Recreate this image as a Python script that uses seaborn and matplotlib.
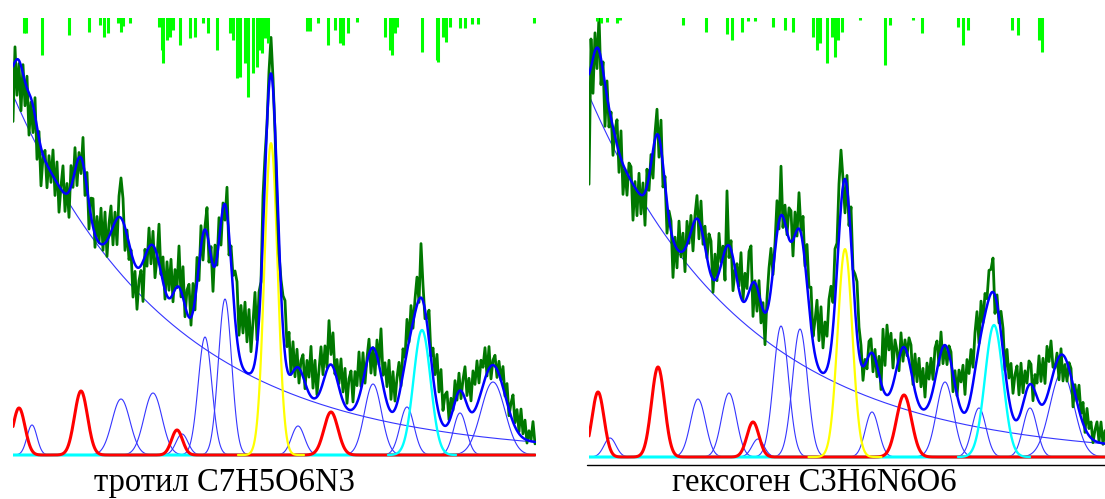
import numpy as np
import seaborn as sns
import matplotlib.pyplot as plt
from matplotlib.lines import Line2D

# ---------------- тротил (left panel) ----------------
tnt_range = (13, 535)
tnt_base = (13, 360, 157)          # x0, amplitude, decay length
tnt_blue_c = [32, 121, 153, 182, 205, 225, 298, 373, 407, 460, 493]
tnt_blue_h = [30, 56, 62, 21, 118, 156, 29, 71, 48, 42, 73]
tnt_blue_s = [5, 9, 9, 6, 6.8, 6.6, 6.5, 8.5, 7, 6.5, 12]
tnt_red_c = [19, 81, 177, 331]
tnt_red_h = [47, 64, 25, 43]
tnt_red_s = [6, 6.5, 5.5, 7]
tnt_yellow = (271, 312, 6.6)
tnt_cyan = (422, 125, 8.5)
# measured minus fit, one value every 2 channels starting at x=13
tnt_resid = [-55,
             15, -36, -3, -45, 9, -24, 12, -42,
             -4, -27, 18, -32, 7, -38, -2, 10,
             -23, 13, -10, 26, -16, 21, -26, 3, 26, -18, 10, -26, 21, -8, 23, -23,
             5, -16, 26, -21, 16, -26,
             18, 28, -13, 23, 0, 36, -6, 31, -16, 13,
             26, -18, 10, -26, 21, 40, 23, -23, 5, -16,
             2, -38, -7, -42, -13, -5, -40,
             7, -15, 19, -19, 14, -29, -3,
             39, -2, 25, -9, 34, 8,
             38, -8, 20, -1, 41, -6, 31, -11, 23, 33, -8, 28,
             -10, 26, -16, 21, -26, 3, 26, -18, 10, -26, 21, -8, 23, -23, 5, -16,
             26, -21, 16,
             16, 47, 57, 18,
             57, 35, 69, 31, 64, 21, 47, 69,
             6, 28, 0, 36,
             20, 0, 15, 36, 10, -5, -20, -15, 10,
             33, 54, 22, 42,
             0, 30, -8, 18, -15, 11, 22, -6, 28, 16, 50,
             10, 38, 2, 24, 42, 8, 30, 2,
             45, 10, 34, -2, 20, 4, 36,
             9, 37, 5, 31, 39, 7, 35, 17, 45,
             3, 28, -12, 4, 15, -24, 0, -25, 16, 0,
             46, 10, 32, 16, 48, 12, 40, 8,
             26, 33, -1, 25, 5, 32, -1, 26,
             -6, 14, 28, -3, 54, 16, -9,
             5, 30, 2, 28, 17, 50, 22, 51,
             14, 31, 33, 2, 18,
             -1, 21, -5, 18, -8, 14, 32, 9,
             31, 11, 41, 25, 44, 16, 32, 18,
             31, -3, 22, -13, 5, 11,
             -8, 13, 0, 21, -1, 19, -6,
             13, 27, 4, 21, 2, 27,
             4, 19, -3, 10, 1, 20, -2]
tnt_spike_x = [24, 26, 42, 69, 89, 100, 104, 108, 118, 121, 123, 130, 159, 162, 163,
               167, 170, 173, 180, 190, 195, 203, 208, 217, 230, 233, 237, 240, 245,
               248, 253, 257, 260, 262, 265, 268, 307, 310, 318, 328, 335, 340, 343,
               348, 357, 385, 390, 392, 395, 397, 422, 437, 438, 443, 446, 450, 460,
               465, 472, 478, 534]
tnt_spike_d = [15, 15, 37, 17, 14, 7, 19, 15, 5, 14, 8, 5, 9, 32, 45,
               22, 19, 12, 27, 20, 19, 5, 15, 32, 15, 22, 60, 59, 45,
               79, 55, 49, 32, 35, 20, 25, 13, 13, 5, 27, 12, 25, 27,
               15, 4, 19, 32, 37, 15, 9, 34, 42, 44, 19, 24, 9, 10,
               10, 6, 6, 5]

# ---------------- гексоген (right panel) ----------------
rdx_range = (589, 1105)
rdx_base = (591, 357, 156)
rdx_blue_c = [610, 698, 729, 758, 781, 800, 872, 945, 979, 1030, 1062]
rdx_blue_h = [19, 58, 64, 18, 131, 128, 45, 75, 49, 49, 85]
rdx_blue_s = [6, 7.5, 7.5, 6, 7.5, 7.5, 6.7, 8.5, 7, 7, 12]
rdx_red_c = [598, 658, 753, 904]
rdx_red_h = [65, 90, 35, 62]
rdx_red_s = [6, 6.5, 6, 7.5]
rdx_yellow = (845, 208, 7.3)
rdx_cyan = (994, 132, 9)
rdx_resid = [-110,
             28, -35, 18, -21, 35,
             -26, 9, -42, 16, -19, 6,
             -28, 6, 25, -20, 28,
             -30, 0, -22, 14, 14, -36, 6, -25, 20, -19, 12, -33, 17, -14, 9,
             -28, 6, 25, -20, 28, -22, 8,
             -30, 8, 10, -38, 8, -19, 30, -5,
             18, -23, 23, -5, 16, -26, 5, 23, -18, 26,
             -8, 21, 0, 34, 34, -13, 26, -3, 39, 3,
             11, -30, 55, -12, 9, -33, -2, 16,
             4, 45, 2, 28, 9, 40, 40,
             -34, 2, -24, 14, -20, 7, -32, 12,
             34, 40, -4, 8,
             33, -8, 49, -11, 18, -3, 31, 31, -16, 23, -6, 36,
             3, 29, -3, 40, 19, 39, 6, 34,
             63, 28, 65, 25, 50, 32, 61,
             61, 25, 52, 26, 52, 56,
             7, -34, 12, -16,
             34, 6, 34, 53, 26,
             18, -14, 5, -9, 14, 14, -18, 9, -11, 18, -7,
             60, 28, 70, 44, 57, 16, 36,
             16, -13, 18, -14, 8, -3, 23, 26, -3,
             37, 17, 46, 21, 41, 12, 44, 24, 39, 10, 32,
             29, -5, 20, -17, -1, -17, 8, 11, -18, 14, -1, 33,
             27, 47, 18, 50, 30, 45, 16, 38, 46,
             2, 33, 1, 21, 7, 28, 24,
             34, -18, 9, -6, 22,
             23, -1, 36, 21, 46,
             23, 45, 54, 22, 48, 11, 25, 6, 24, 20, -14, 17,
             14, 46, 23, 46, 18, 50, 28, 41, 7,
             -1, 8, -23, 6, -26, -7, -19, 6, 8, -22, 9,
             1, 25, 4, 21, -4, 24, 7,
             16, -3, 11, 20, 1, 21, -1, 13]
rdx_spike_x = [597, 601, 607, 617, 620, 683, 706, 727, 732, 742, 748, 755, 773, 785,
               793, 813, 817, 820, 827, 832, 835, 838, 842, 860, 885, 890, 913, 922,
               958, 963, 968, 1012, 1018, 1039, 1042]
rdx_spike_d = [3, 5, 4, 5, 2, 7, 14, 16, 22, 14, 3, 3, 9, 12,
               14, 19, 32, 25, 45, 19, 39, 22, 14, 2, 47, 7, 2, 15,
               9, 27, 12, 12, 17, 22, 34]

W, H = 1105, 499


def gauss(x, c, h, s):
    return h * np.exp(-(x - c) ** 2 / (2.0 * s ** 2))


def line(ax, x, y, color, lw, z):
    sns.lineplot(x=x, y=y, ax=ax, color=color, linewidth=lw, estimator=None,
                 sort=False, zorder=z, legend=False)


def draw_panel(ax, xr, base, blue, red, yellow, cyan, resid, spike_x, spike_d, top):
    lo, hi = xr
    grid = np.arange(lo, hi + 0.25, 0.5)
    bx0, bamp, bdec = base
    peaks = list(zip(*blue)) + list(zip(*red)) + [yellow, cyan]

    def model(x):
        y = bamp * np.exp(-(x - bx0) / bdec)
        for c, h, s in peaks:
            y = y + gauss(x, c, h, s)
        return y

    # exponential background
    line(ax, grid, bamp * np.exp(-(grid - bx0) / bdec), '#3535ff', 0.8, 2)
    # individual blue components
    for c, h, s in zip(*blue):
        xs = np.linspace(max(lo, c - 3.5 * s), min(hi, c + 3.5 * s), 90)
        line(ax, xs, gauss(xs, c, h, s), '#3535ff', 0.8, 2)
    # zero line (cyan) and red components summed
    line(ax, grid, np.zeros_like(grid), '#00ffff', 2.2, 3)
    red_sum = np.zeros_like(grid)
    for c, h, s in zip(*red):
        red_sum += gauss(grid, c, h, s)
    line(ax, grid, red_sum, '#ff0000', 2.2, 4)
    # yellow and cyan components
    c, h, s = yellow
    xs = np.linspace(c - 5 * s, c + 5 * s, 120)
    line(ax, xs, gauss(xs, c, h, s), '#ffff00', 1.6, 5)
    c, h, s = cyan
    xs = np.linspace(c - 4 * s, c + 4 * s, 120)
    line(ax, xs, gauss(xs, c, h, s), '#00ffff', 1.7, 5)
    # measured spectrum
    xd = lo + 2 * np.arange(len(resid))
    line(ax, xd, model(xd) + np.array(resid), '#007800', 2.0, 6)
    # fit envelope
    line(ax, grid, model(grid), '#0000ff', 1.8, 7)
    # residual spikes hanging from the top
    ax.vlines(spike_x, top - np.array(spike_d), top + 3, colors='#00ff00',
              linewidth=2.2, zorder=8)
    ax.set_xlim(lo, hi + 1)
    ax.set_ylim(-4, top)
    ax.set_axis_off()


sns.set_theme(style="white")
plt.rcParams['font.family'] = ['Liberation Serif', 'DejaVu Serif']

fig = plt.figure(figsize=(W / 100, H / 100), dpi=100)

# left panel: baseline at pixel row 455, top at 18
ax1 = fig.add_axes([13 / W, (H - 459) / H, 523 / W, 441 / H])
draw_panel(ax1, tnt_range, tnt_base,
           (tnt_blue_c, tnt_blue_h, tnt_blue_s), (tnt_red_c, tnt_red_h, tnt_red_s),
           tnt_yellow, tnt_cyan, tnt_resid, tnt_spike_x, tnt_spike_d, 437)

# right panel: baseline at pixel row 457, top at 18
ax2 = fig.add_axes([589 / W, (H - 461) / H, 517 / W, 443 / H])
draw_panel(ax2, rdx_range, rdx_base,
           (rdx_blue_c, rdx_blue_h, rdx_blue_s), (rdx_red_c, rdx_red_h, rdx_red_s),
           rdx_yellow, rdx_cyan, rdx_resid, rdx_spike_x, rdx_spike_d, 439)

fig.add_artist(Line2D([587 / W, 1.0], [1 - 464.5 / H, 1 - 464.5 / H],
                      color='black', linewidth=1.0))

fig.text(224.5 / W, 1 - 491 / H, 'тротил C7H5O6N3', ha='center', va='baseline',
         fontsize=23.5, color='black')
fig.text(814 / W, 1 - 491 / H, 'гексоген C3H6N6O6', ha='center', va='baseline',
         fontsize=23.5, color='black')

fig.savefig('out.png', dpi=100)
